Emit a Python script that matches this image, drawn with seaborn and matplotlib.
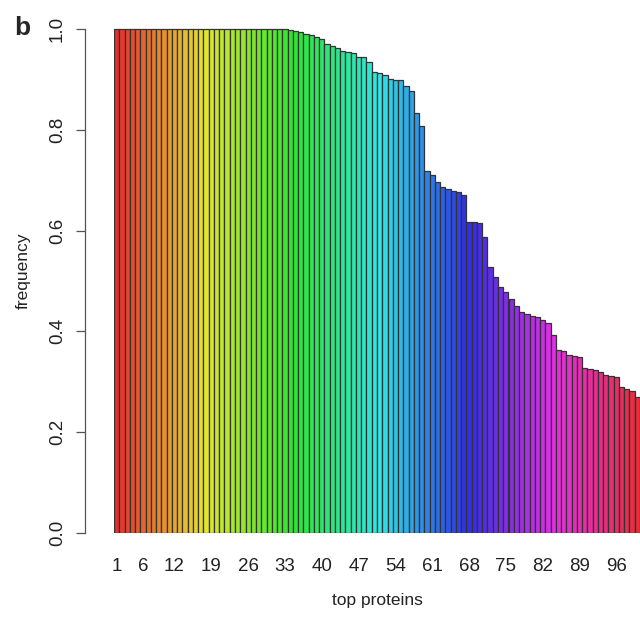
import colorsys
import matplotlib
matplotlib.use("Agg")
import matplotlib.pyplot as plt
import seaborn as sns
import pandas as pd

# frequency of each of the top 100 proteins
frequency = [
    1.000, 1.000, 1.000, 1.000, 1.000, 1.000, 1.000, 1.000, 1.000, 1.000,
    1.000, 1.000, 1.000, 1.000, 1.000, 1.000, 1.000, 1.000, 1.000, 1.000,
    1.000, 1.000, 1.000, 1.000, 1.000, 1.000, 1.000, 1.000, 1.000, 1.000,
    1.000, 1.000, 1.000, 0.999, 0.997, 0.994, 0.990, 0.988, 0.985, 0.980,
    0.970, 0.967, 0.962, 0.956, 0.955, 0.952, 0.945, 0.944, 0.935, 0.915,
    0.913, 0.908, 0.900, 0.899, 0.898, 0.886, 0.876, 0.834, 0.808, 0.719,
    0.710, 0.697, 0.686, 0.682, 0.678, 0.676, 0.671, 0.618, 0.618, 0.616,
    0.588, 0.527, 0.507, 0.489, 0.479, 0.464, 0.450, 0.439, 0.435, 0.431,
    0.428, 0.423, 0.416, 0.392, 0.364, 0.362, 0.354, 0.352, 0.350, 0.328,
    0.325, 0.323, 0.320, 0.314, 0.312, 0.310, 0.289, 0.285, 0.282, 0.270,
]
proteins = [str(i) for i in range(1, len(frequency) + 1)]
shown_labels = [1, 6, 12, 19, 26, 33, 40, 47, 54, 61, 68, 75, 82, 89, 96]
y_ticks = [0.0, 0.2, 0.4, 0.6, 0.8, 1.0]

df = pd.DataFrame({"protein": proteins, "frequency": frequency})

# R-style rainbow palette, toned down a little like the printed figure
n = len(proteins)
colors = [colorsys.hsv_to_rgb(i / n, 0.8, 0.9) for i in range(n)]

sns.set_style("white")
plt.rcParams["font.family"] = ["Liberation Sans", "DejaVu Sans"]

fig = plt.figure(figsize=(6.4, 6.19), dpi=100)
ax = fig.add_axes([114 / 640, 86 / 619, (640 - 114) / 640, 504 * 1.04 / 619])

sns.barplot(data=df, x="protein", y="frequency", hue="protein", palette=colors,
            legend=False, width=1.0, edgecolor="#333333", linewidth=0.9,
            saturation=1, ax=ax)

ax.set_xlim(-0.5, n - 0.5)
ax.set_ylim(0, 1.04)

# y axis drawn R-style: detached and limited to the data range
for side in ["top", "right", "bottom"]:
    ax.spines[side].set_visible(False)
ax.spines["left"].set_position(("outward", 21))
ax.spines["left"].set_bounds(0, 1)
ax.spines["left"].set_color("#555555")
ax.spines["left"].set_linewidth(0.9)

ax.set_yticks(y_ticks)
ax.set_yticklabels([f"{t:.1f}" for t in y_ticks], rotation=90, va="center",
                   fontsize=13.5, color="#222222")
ax.tick_params(axis="y", length=6.5, width=0.9, color="#555555", pad=7,
               left=True)

ax.set_xticks([i - 1 for i in shown_labels])
ax.set_xticklabels([str(i) for i in shown_labels], fontsize=13.5,
                   color="#222222")
ax.tick_params(axis="x", length=0, pad=18)

ax.set_xlabel("top proteins", fontsize=12.5, color="#222222", labelpad=13)
ax.set_ylabel("frequency", fontsize=12.5, color="#222222", labelpad=13)

fig.text(22 / 640, 1 - 28 / 619, "b", fontsize=19, fontweight="bold",
         ha="center", va="center")

fig.savefig("out.png", dpi=100)
